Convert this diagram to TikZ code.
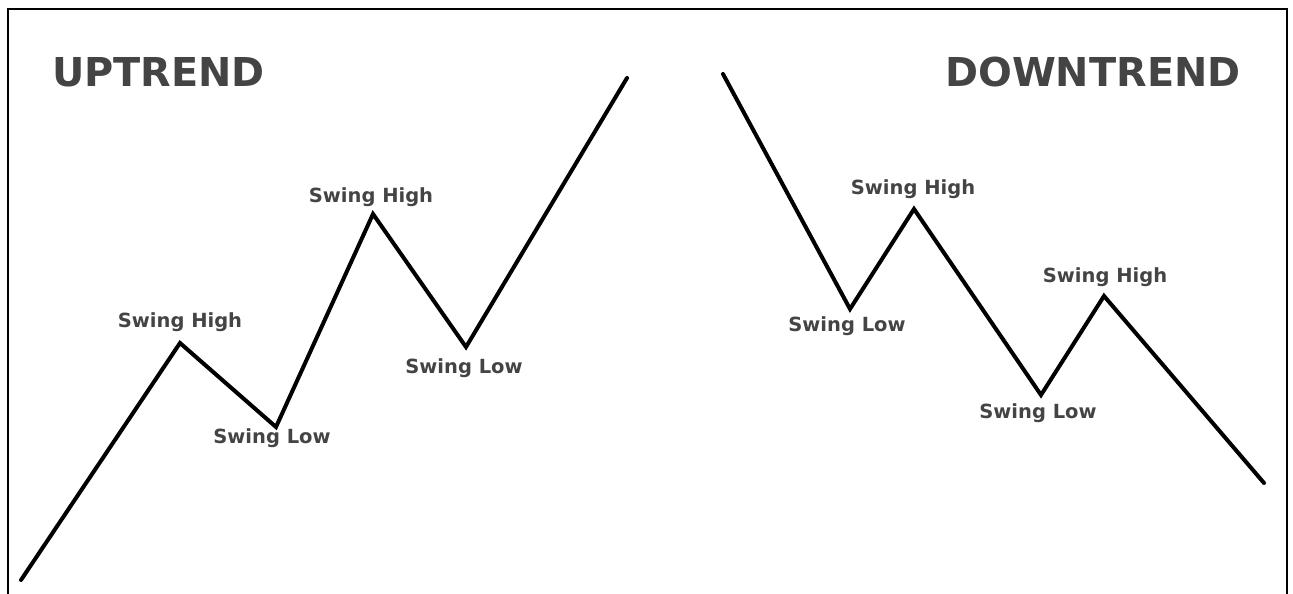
\documentclass[tikz,border=0pt]{standalone}
\usepackage{fontspec}
\setmainfont{DejaVu Sans}
\definecolor{textgray}{HTML}{444444}
\begin{document}
\begin{tikzpicture}[x=1pt,y=-1pt,
  trend/.style={line width=4pt,line cap=round,line join=miter},
  frame/.style={line width=2pt},
  ttl/.style={font=\fontsize{39.8}{41}\selectfont\bfseries,text=textgray,anchor=base west,inner sep=0pt},
  lbl/.style={font=\fontsize{19.5}{21}\selectfont\bfseries,text=textgray,anchor=base,inner sep=0pt}]
\useasboundingbox (0,0) rectangle (1293,594);
\draw[frame] (8,594) |- (1287,9) -- (1287,594);
% uptrend
\coordinate (u0) at (21,580);
\coordinate (u1) at (180,343);
\coordinate (u2) at (276,427);
\coordinate (u3) at (373,214);
\coordinate (u4) at (466,347);
\coordinate (u5) at (627,78);
\draw[trend] (u0) -- (u1) -- (u2) -- (u3) -- (u4) -- (u5);
\node[ttl] (uptitle) at (52,86) {UPTREND};
\node[lbl] (uhigh1) at (180,327) {Swing High};
\node[lbl] (ulow1) at (272,443) {Swing Low};
\node[lbl] (uhigh2) at (371,202) {Swing High};
\node[lbl] (ulow2) at (464,373) {Swing Low};
% downtrend
\coordinate (d0) at (723,74);
\coordinate (d1) at (850,309);
\coordinate (d2) at (914,209);
\coordinate (d3) at (1041,395);
\coordinate (d4) at (1104,296);
\coordinate (d5) at (1264,483);
\draw[trend] (d0) -- (d1) -- (d2) -- (d3) -- (d4) -- (d5);
\node[ttl] (downtitle) at (945,86) {DOWNTREND};
\node[lbl] (dhigh1) at (913,194) {Swing High};
\node[lbl] (dlow1) at (847,331) {Swing Low};
\node[lbl] (dhigh2) at (1105,282) {Swing High};
\node[lbl] (dlow2) at (1038,418) {Swing Low};
\end{tikzpicture}
\end{document}
